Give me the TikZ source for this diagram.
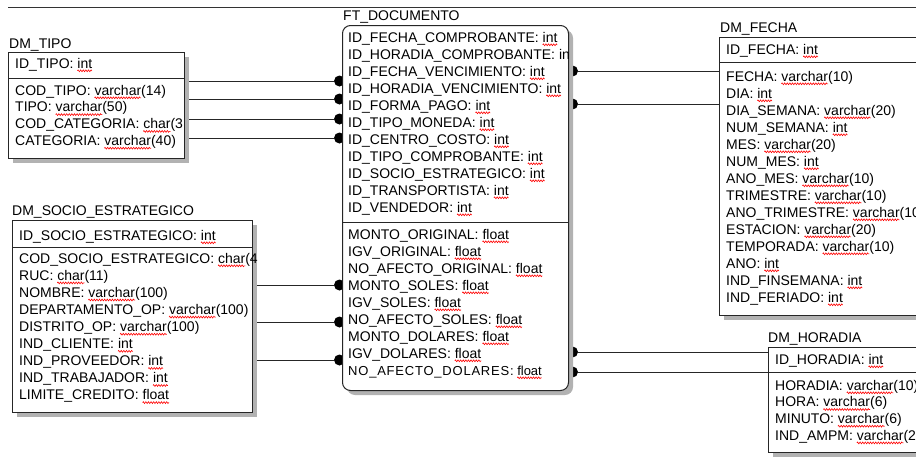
\documentclass[tikz,border=0pt]{standalone}
\usepackage{fontspec}
\setmainfont{Liberation Sans}
\usetikzlibrary{positioning, shadows, backgrounds, decorations.pathmorphing}
% subrayado ondulado del corrector
\newsavebox{\ondasbox}
\newcommand{\ondas}[1]{\sbox{\ondasbox}{#1}\rlap{\tikz[overlay]\draw[red, line width=0.6pt,
  decorate, decoration={zigzag, segment length=2.6pt, amplitude=0.9pt}]
  (0pt,-2.8pt) -- (\wd\ondasbox,-2.8pt);}\usebox{\ondasbox}}
\tikzset{tabla/.style={rectangle, draw=black!85, fill=white, line width=1pt,
  anchor=north west, inner sep=0pt,
  drop shadow={shadow xshift=4.5pt, shadow yshift=-4.5pt, fill=gray!60, opacity=1}}}
\tikzset{hecho/.style={tabla, rounded corners=8pt}}
\tikzset{campo/.style={anchor=base west, inner sep=0pt, font=\fontsize{14}{16}\selectfont}}
\tikzset{punto/.style={circle, fill=black, inner sep=0pt, minimum size=11pt}}
\tikzset{rel/.style={draw=black!85, line width=1pt}}

\begin{document}
\begin{tikzpicture}[x=1pt, y=-1pt]
\useasboundingbox (0,0) rectangle (916,458);
\clip (0,0) rectangle (916,458);
\draw[black!80, line width=0.8pt] (8,7) -- (916,7);

% tablas
\node[tabla, minimum width=176, minimum height=106] (tipo) at (8,52) {};
\node[hecho, minimum width=226, minimum height=365] (doc) at (342,25) {};
\node[tabla, minimum width=211, minimum height=278] (fecha) at (719,37) {};
\node[tabla, minimum width=240, minimum height=192] (socio) at (12,220) {};
\node[tabla, minimum width=162, minimum height=105] (horadia) at (768,347) {};
\draw[rel] ([yshift=-26pt]tipo.north west) -- ([yshift=-26pt]tipo.north east);
\draw[rel] ([yshift=-197pt]doc.north west) -- ([yshift=-197pt]doc.north east);
\draw[rel] ([yshift=-25pt]fecha.north west) -- ([yshift=-25pt]fecha.north east);
\draw[rel] ([yshift=-27pt]socio.north west) -- ([yshift=-27pt]socio.north east);
\draw[rel] ([yshift=-25pt]horadia.north west) -- ([yshift=-25pt]horadia.north east);

% DM_TIPO
\node[campo] (tipo-t) at (9,48) {DM\_TIPO};
\node[campo] (tipo-id) at (15,68) {ID\_TIPO: \ondas{int}};
\foreach \c [count=\i from 0] in {COD\_TIPO: \ondas{varchar}(14), TIPO: \ondas{varchar}(50),
  COD\_CATEGORIA: \ondas{char}(3, CATEGORIA: \ondas{varchar}(40)}
  \node[campo] (tipo-\i) at (15,{95+16.8*\i}) {\c};

% FT_DOCUMENTO
\node[campo] (doc-t) at (343,20) {FT\_DOCUMENTO};
\foreach \c [count=\i from 0] in {ID\_FECHA\_COMPROBANTE: \ondas{int}, ID\_HORADIA\_COMPROBANTE: in,
  ID\_FECHA\_VENCIMIENTO: \ondas{int}, ID\_HORADIA\_VENCIMIENTO: \ondas{int},
  ID\_FORMA\_PAGO: \ondas{int}, ID\_TIPO\_MONEDA: \ondas{int}, ID\_CENTRO\_COSTO: \ondas{int},
  ID\_TIPO\_COMPROBANTE: \ondas{int}, ID\_SOCIO\_ESTRATEGICO: \ondas{int},
  ID\_TRANSPORTISTA: \ondas{int}, ID\_VENDEDOR: \ondas{int}}
  \node[campo] (doc-\i) at (348,{42+17*\i}) {\c};
\foreach \c [count=\i from 0] in {MONTO\_ORIGINAL: \ondas{float}, IGV\_ORIGINAL: \ondas{float},
  NO\_AFECTO\_ORIGINAL: \ondas{float}, MONTO\_SOLES: \ondas{float}, IGV\_SOLES: \ondas{float},
  NO\_AFECTO\_SOLES: \ondas{float}, MONTO\_DOLARES: \ondas{float}, IGV\_DOLARES: \ondas{float}}
  \node[campo] (monto-\i) at (348,{239+17*\i}) {\c};
\node[campo, font=\fontsize{13}{15}\selectfont] (monto-8) at (348,375)
  {{\addfontfeatures{LetterSpace=6}NO\_AFECTO\_DOLARES:}\ \ondas{float}};

% DM_FECHA
\node[campo] (fecha-t) at (720,32) {DM\_FECHA};
\node[campo] (fecha-id) at (726,54) {ID\_FECHA: \ondas{int}};
\foreach \c [count=\i from 0] in {FECHA: \ondas{varchar}(10), DIA: \ondas{int},
  DIA\_SEMANA: \ondas{varchar}(20), NUM\_SEMANA: \ondas{int}, MES: \ondas{varchar}(20),
  NUM\_MES: \ondas{int}, ANO\_MES: \ondas{varchar}(10), TRIMESTRE: \ondas{varchar}(10),
  ANO\_TRIMESTRE: \ondas{varchar}(10, ESTACION: \ondas{varchar}(20),
  TEMPORADA: \ondas{varchar}(10), ANO: \ondas{int}, IND\_FINSEMANA: \ondas{int},
  IND\_FERIADO: \ondas{int}}
  \node[campo] (fecha-\i) at (726,{81+17*\i}) {\c};

% DM_SOCIO_ESTRATEGICO
\node[campo] (socio-t) at (12,215) {DM\_SOCIO\_ESTRATEGICO};
\node[campo] (socio-id) at (19,240) {ID\_SOCIO\_ESTRATEGICO: \ondas{int}};
\foreach \c [count=\i from 0] in {COD\_SOCIO\_ESTRATEGICO: \ondas{char}(4, RUC: \ondas{char}(11),
  NOMBRE: \ondas{varchar}(100), DEPARTAMENTO\_OP: \ondas{varchar}(100),
  DISTRITO\_OP: \ondas{varchar}(100), IND\_CLIENTE: \ondas{int}, IND\_PROVEEDOR: \ondas{int},
  IND\_TRABAJADOR: \ondas{int}, LIMITE\_CREDITO: \ondas{float}}
  \node[campo] (socio-\i) at (19,{263+17.1*\i}) {\c};

% DM_HORADIA
\node[campo] (horadia-t) at (768,342) {DM\_HORADIA};
\node[campo] (horadia-id) at (775,364) {ID\_HORADIA: \ondas{int}};
\foreach \c [count=\i from 0] in {HORADIA: \ondas{varchar}(10), HORA: \ondas{varchar}(6),
  MINUTO: \ondas{varchar}(6), IND\_AMPM: \ondas{varchar}(2}
  \node[campo] (horadia-\i) at (775,{390+16.7*\i}) {\c};

% relaciones
\begin{scope}[on background layer]
\foreach \y [count=\i] in {81,99,119,138} {
  \node[punto] (pt-\i) at (339.5,\y) {};
  \draw[rel] (pt-\i) -- (pt-\i -| tipo.east);
}
\foreach \y [count=\i] in {285,322,360} {
  \node[punto] (ps-\i) at (339.5,\y) {};
  \draw[rel] (ps-\i) -- (ps-\i -| socio.east);
}
\foreach \y [count=\i] in {71,104} {
  \node[punto] (pf-\i) at (572.5,\y) {};
  \draw[rel] (pf-\i) -- (pf-\i -| fecha.west);
}
\foreach \y [count=\i] in {352,372} {
  \node[punto] (ph-\i) at (572.5,\y) {};
  \draw[rel] (ph-\i) -- (ph-\i -| horadia.west);
}
\end{scope}
\end{tikzpicture}
\end{document}
